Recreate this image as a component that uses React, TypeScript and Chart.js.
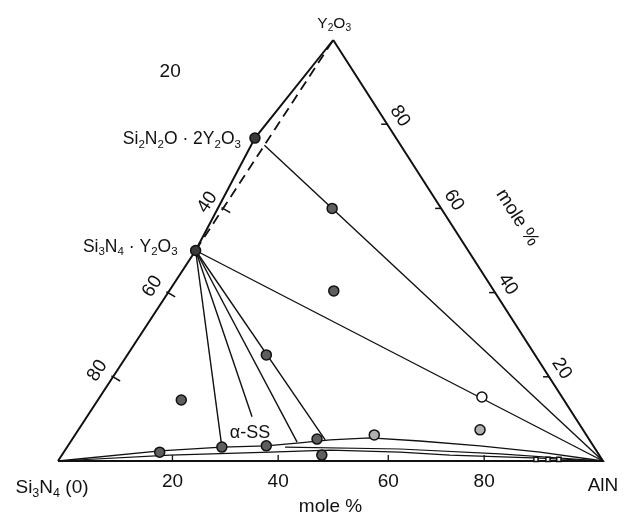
import React, { useEffect, useRef } from "react";
import { Chart, registerables } from "chart.js";
Chart.register(...registerables);

// Compositions are [AlN mol%, Y2O3 mol%]; Si3N4 makes up the rest.
const SI3N4 = [0, 0];
const ALN = [100, 0];
const Y2O3 = [0, 100];
const SN_Y = [0, 50]; // Si3N4·Y2O3
const S2NO_2Y = [-2.6, 76.7]; // Si2N2O·2Y2O3 as plotted
const TIE_START = [0, 75];

// lines from Si3N4·Y2O3 to the alpha-SS region and to AlN
const fanEnds = [
  [28.4, 3.3],
  [30.3, 10.5],
  [41.6, 4.5],
  [46.5, 5.0],
  [100, 0],
];

// alpha-SS band boundaries
const ssUpper = [
  [0, 0], [17.5, 2.4], [28.4, 3.3], [36.4, 3.6], [42.2, 4.3], [47.4, 5.0],
  [54.5, 5.5], [64, 4.75], [75.6, 3.6], [87.4, 2.1], [100, 0],
];
const ssLower = [
  [0, 0], [19.8, 1.4], [37.8, 2.1], [48.6, 2.6], [61.7, 2.1], [71.2, 1.4],
  [88.1, 0.7], [100, 0],
];
const ssMiddle = [[40, 3.3], [61.3, 2.85], [80.2, 1.7], [100, 0]];

// sample compositions
const darkPoints = [
  [20, 60], [30.2, 40.4], [25.5, 25.2], [15.3, 14.5], [17.6, 2.1],
  [28.4, 3.3], [36.4, 3.6], [44.9, 5.2], [47.7, 1.4],
];
const compoundPoints = [S2NO_2Y, SN_Y];
const lightPoints = [[54.9, 6.2], [73.7, 7.4]];
const openPoints = [[70.1, 15.2]];
const squarePoints = [[87.5, 0.4], [89.7, 0.4], [91.7, 0.4]];

// axis ticks
const bottomTicks = [21, 40.4, 60.6, 78.2];
const bottomTickLabels = ["20", "40", "60", "80"];
const rightTicks = [80, 60, 40, 20];
const rightTickLabels = ["80", "60", "40", "20"];
const leftTicks = [20, 40, 60];
const leftTickLabels = ["80", "60", "40"];
const leftStrayTick = 80;
const leftStrayLabel = "20";

const SKEW = 0.505;
const toXY = (p: number[]) => ({ x: p[0] + SKEW * p[1], y: p[1] });

const FONT = '"Liberation Sans", Arial, Helvetica, sans-serif';

function drawRich(ctx: CanvasRenderingContext2D, str: string, x: number, y: number, size: number, align: string) {
  const segs: { t: string; sub: boolean }[] = [];
  for (let i = 0; i < str.length; i++) {
    if (str[i] === "_" && i + 1 < str.length) {
      segs.push({ t: str[i + 1], sub: true });
      i++;
    } else {
      const last = segs[segs.length - 1];
      if (last && !last.sub) last.t += str[i];
      else segs.push({ t: str[i], sub: false });
    }
  }
  const subSize = size * 0.66;
  let total = 0;
  const widths = segs.map((s) => {
    ctx.font = `${s.sub ? subSize : size}px ${FONT}`;
    const w = ctx.measureText(s.t).width;
    total += w;
    return w;
  });
  let cx = x;
  if (align === "center") cx = x - total / 2;
  else if (align === "right") cx = x - total;
  const base = y + size * 0.36;
  ctx.textAlign = "left";
  ctx.textBaseline = "alphabetic";
  segs.forEach((s, i) => {
    ctx.font = `${s.sub ? subSize : size}px ${FONT}`;
    ctx.fillText(s.t, cx, s.sub ? base + size * 0.2 : base);
    cx += widths[i];
  });
}

type Label = { text: string; at: number[]; dx: number; dy: number; size: number; rot?: number; align?: string };

const RIGHT_ROT = (57.3 * Math.PI) / 180;
const LEFT_ROT = (-56.7 * Math.PI) / 180;

const labels: Label[] = [
  { text: "Y_2O_3", at: Y2O3, dx: 1, dy: -18, size: 15.5 },
  { text: "Si_3N_4 (0)", at: SI3N4, dx: -6, dy: 25, size: 19 },
  { text: "AlN", at: ALN, dx: 0, dy: 23, size: 19 },
  { text: "Si_2N_2O · 2Y_2O_3", at: S2NO_2Y, dx: -14, dy: 0, size: 17.5, align: "right" },
  { text: "Si_3N_4 · Y_2O_3", at: SN_Y, dx: -18, dy: -5, size: 17.5, align: "right" },
  { text: "α-SS", at: fanEnds[1], dx: -2, dy: 15, size: 18 },
  { text: "mole %", at: [50, 0], dx: 0, dy: 44, size: 19 },
  { text: "mole %", at: [42, 58], dx: 72, dy: 0, size: 19, rot: RIGHT_ROT },
  { text: leftStrayLabel, at: [0, leftStrayTick], dx: -108, dy: -54, size: 19 },
  ...bottomTicks.map((t, i) => ({ text: bottomTickLabels[i], at: [t, 0], dx: 0, dy: 19, size: 19 })),
  ...rightTicks.map((v, i) => ({ text: rightTickLabels[i], at: [100 - v, v], dx: 14, dy: -9, size: 19, rot: RIGHT_ROT })),
  ...leftTicks.map((v, i) => ({ text: leftTickLabels[i], at: [0, v], dx: -17, dy: -7, size: 19, rot: LEFT_ROT })),
];

const textPlugin = {
  id: "ternaryText",
  afterDatasetsDraw(chart: any) {
    const ctx = chart.ctx as CanvasRenderingContext2D;
    const xs = chart.scales.x;
    const ys = chart.scales.y;
    ctx.save();
    ctx.fillStyle = "#111";
    labels.forEach((l) => {
      const p = toXY(l.at);
      const px = xs.getPixelForValue(p.x) + l.dx;
      const py = ys.getPixelForValue(p.y) + l.dy;
      ctx.save();
      ctx.translate(px, py);
      if (l.rot) ctx.rotate(l.rot);
      drawRich(ctx, l.text, 0, 0, l.size, l.align || "center");
      ctx.restore();
    });
    ctx.restore();
  },
};

const line = (pts: { x: number; y: number }[], width: number, extra: any = {}) => ({
  type: "scatter",
  data: pts,
  showLine: true,
  borderColor: "#111",
  backgroundColor: "#111",
  borderWidth: width,
  pointRadius: 0,
  pointHoverRadius: 0,
  tension: 0,
  clip: false,
  order: 2,
  ...extra,
});

const points = (pts: number[][], fill: string, radius: number, style = "circle") => ({
  type: "scatter",
  data: pts.map(toXY),
  showLine: false,
  pointStyle: style,
  pointRadius: radius,
  pointHoverRadius: radius,
  backgroundColor: fill,
  borderColor: "#111",
  pointBorderWidth: 1.5,
  clip: false,
  order: 1,
});

export default function App() {
  const ref = useRef<HTMLCanvasElement | null>(null);
  useEffect(() => {
    if (!ref.current) return;
    const datasets: any[] = [
      points(darkPoints, "#5e5e5e", 5),
      points(compoundPoints, "#3a3a3a", 5),
      points(lightPoints, "#b0b0b0", 5),
      points(openPoints, "#ffffff", 5),
      points(squarePoints, "#ffffff", 3, "rect"),
      // triangle edges
      line([SI3N4, ALN, Y2O3].map(toXY), 2),
      line([SI3N4, SN_Y, S2NO_2Y, Y2O3].map(toXY), 2),
      // dashed join
      line([SN_Y, Y2O3].map(toXY), 1.8, { borderDash: [10, 6] }),
      // tie lines
      line([TIE_START, ALN].map(toXY), 1.4),
      ...fanEnds.map((e) => line([SN_Y, e].map(toXY), 1.4)),
      // alpha-SS band
      line(ssUpper.map(toXY), 1.3),
      line(ssLower.map(toXY), 1.2),
      line(ssMiddle.map(toXY), 1.1),
      // ticks
      ...bottomTicks.map((t) => line([{ x: t, y: 0 }, { x: t, y: 1.4 }], 1.3)),
      ...rightTicks.map((v) => {
        const p = toXY([100 - v, v]);
        return line([p, { x: p.x - 1.1, y: p.y }], 1.5);
      }),
      ...leftTicks.map((v) => {
        const p = toXY([0, v]);
        return line([{ x: p.x - 0.3, y: p.y + 0.2 }, { x: p.x + 1.3, y: p.y - 1.0 }], 1.5);
      }),
    ];
    const chart = new Chart(ref.current, {
      type: "scatter",
      data: { datasets },
      options: {
        animation: false,
        responsive: false,
        devicePixelRatio: 1,
        layout: { padding: { left: 58, right: 27, top: 40, bottom: 59 } },
        scales: {
          x: { type: "linear", min: 0, max: 100, display: false },
          y: { type: "linear", min: 0, max: 100, display: false },
        },
        plugins: { legend: { display: false }, tooltip: { enabled: false } },
        events: [],
      },
      plugins: [textPlugin],
    } as any);
    return () => chart.destroy();
  }, []);
  return (
    <div style={{ position: "absolute", left: 0, top: 0, width: 630, height: 520, background: "#fff" }}>
      <canvas ref={ref} width={630} height={520} style={{ display: "block" }} />
    </div>
  );
}
